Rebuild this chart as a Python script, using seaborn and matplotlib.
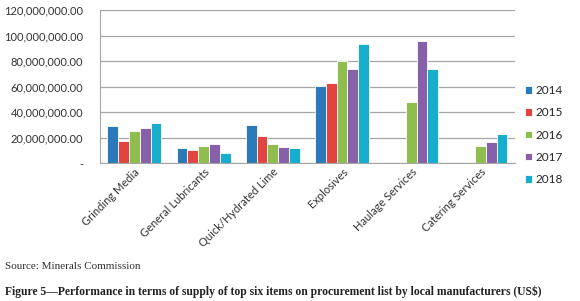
import numpy as np
import pandas as pd
import matplotlib
matplotlib.use("Agg")
import matplotlib.pyplot as plt
import matplotlib.ticker as mticker
import seaborn as sns

sns.set_style("white")
plt.rcParams['font.family'] = ['Lato', 'DejaVu Sans']

# data (US$)
items = ["Grinding Media", "General Lubricants", "Quick/Hydrated Lime",
         "Explosives", "Haulage Services", "Catering Services"]
years = ["2014", "2015", "2016", "2017", "2018"]
v2014 = [29.5e6, 12.0e6, 29.8e6, 60.4e6, 0, 0]
v2015 = [17.5e6, 10.4e6, 21.6e6, 63.2e6, 0, 0]
v2016 = [25.3e6, 13.6e6, 15.1e6, 80.0e6, 48.3e6, 13.6e6]
v2017 = [27.4e6, 15.1e6, 13.0e6, 73.7e6, 95.7e6, 16.5e6]
v2018 = [31.4e6, 7.8e6, 12.0e6, 93.8e6, 74.0e6, 23.0e6]
colors = ["#2b79b8", "#e2453f", "#8fbe4f", "#8660a8", "#17adcc"]

df = pd.DataFrame({"Item": items * 5,
                   "Year": [y for y in years for _ in items],
                   "Value": v2014 + v2015 + v2016 + v2017 + v2018})

fig = plt.figure(figsize=(5.8, 3.01), dpi=100)
ax = fig.add_axes([0.172, 0.457, 0.716, 0.509])
sns.barplot(data=df, x="Item", y="Value", hue="Year", hue_order=years,
            palette=colors, width=0.78, edgecolor="white", linewidth=0.6,
            saturation=1, ax=ax)

ax.set_ylim(0, 120e6)
ax.set_yticks(np.arange(0, 120e6 + 1, 20e6))
ax.yaxis.set_major_formatter(mticker.FuncFormatter(
    lambda v, p: "-" if v == 0 else f"{v:,.2f}"))
ax.yaxis.grid(True, color="#a6a6a6", linewidth=0.9)
ax.set_axisbelow(True)
ax.tick_params(axis="y", labelsize=8, length=0, pad=12, colors="#333333")
ax.tick_params(axis="x", labelsize=8, length=0, pad=2, colors="#333333")
plt.setp(ax.get_xticklabels(), rotation=45, ha="right", rotation_mode="anchor")
ax.set_xlabel("")
ax.set_ylabel("")
for s in ["top", "right"]:
    ax.spines[s].set_visible(False)
for s in ["left", "bottom"]:
    ax.spines[s].set_color("#a6a6a6")

ax.legend(loc="upper left", bbox_to_anchor=(1.01, 0.55), frameon=False,
          fontsize=8.5, handlelength=0.6, handleheight=0.6, handletextpad=0.3,
          labelspacing=0.95, borderpad=0)

fig.text(0.008, 0.105, "Source: Minerals Commission", family="Liberation Serif",
         fontsize=8, color="#333333")
fig.text(0.008, 0.02, "Figure 5\u2014Performance in terms of supply of top six items "
         "on procurement list by local manufacturers (US$)",
         family="Liberation Serif", fontsize=8.4, weight="bold", color="#222222")

plt.savefig("out.png", dpi=100)
